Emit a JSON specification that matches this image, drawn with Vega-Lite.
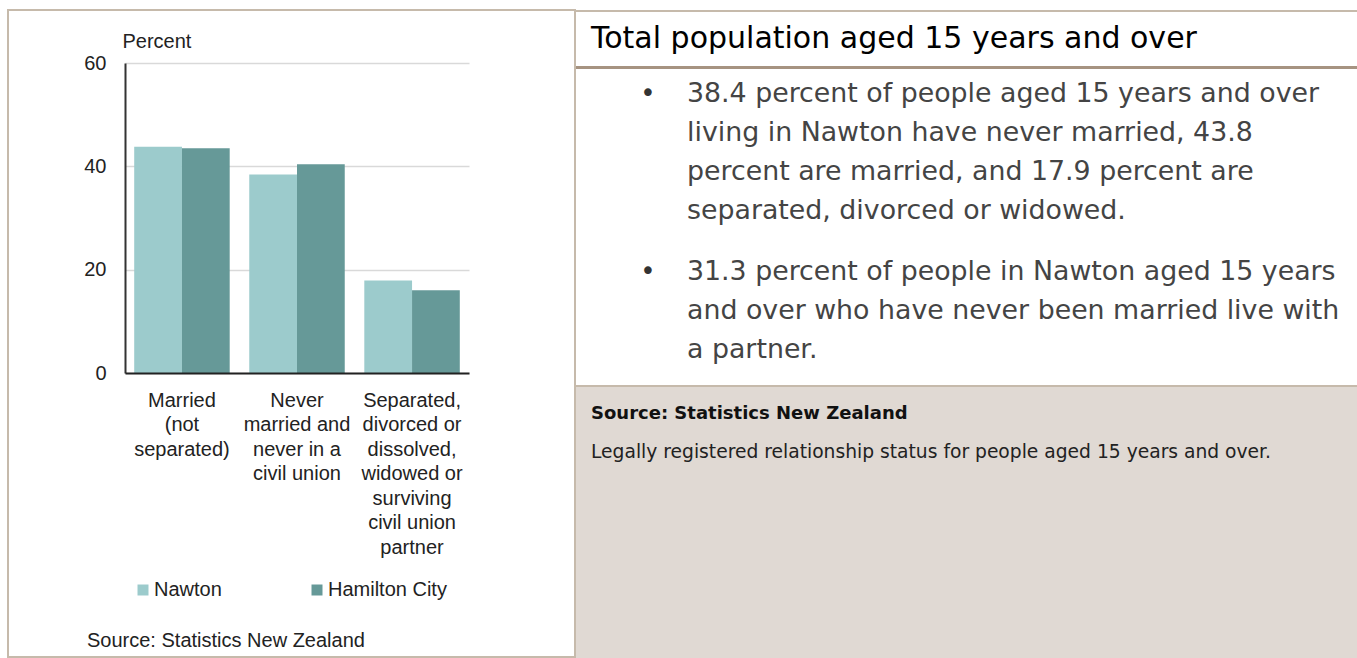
{
  "$schema": "https://vega.github.io/schema/vega-lite/v6.json",
  "background": "white",
  "padding": {"left": 7, "top": 9, "right": 0, "bottom": 0},
  "config": {"view": {"stroke": null}, "font": "Liberation Sans"},
  "spacing": 0,
  "hconcat": [
    {
      "width": 567,
      "height": 647,
      "view": {"stroke": "#c6baab", "strokeWidth": 2, "fill": "white"},
      "data": {"values": [
        {"status": "Married (not separated)", "area": "Nawton", "percent": 43.8},
        {"status": "Married (not separated)", "area": "Hamilton City", "percent": 43.5},
        {"status": "Never married and never in a civil union", "area": "Nawton", "percent": 38.4},
        {"status": "Never married and never in a civil union", "area": "Hamilton City", "percent": 40.4},
        {"status": "Separated, divorced or dissolved, widowed or surviving civil union partner", "area": "Nawton", "percent": 17.9},
        {"status": "Separated, divorced or dissolved, widowed or surviving civil union partner", "area": "Hamilton City", "percent": 16.0}
      ]},
      "title": {
        "text": "Source: Statistics New Zealand",
        "orient": "bottom",
        "anchor": "start",
        "frame": "group",
        "dx": 79,
        "offset": -26,
        "baseline": "top",
        "font": "Liberation Sans",
        "fontSize": 20,
        "fontWeight": "normal",
        "color": "#222222"
      },
      "mark": {"type": "bar"},
      "encoding": {
        "x": {
          "field": "status",
          "type": "nominal",
          "sort": ["Married (not separated)", "Never married and never in a civil union", "Separated, divorced or dissolved, widowed or surviving civil union partner"],
          "scale": {"range": [117, 461], "paddingInner": 0.17, "paddingOuter": 0.08},
          "axis": {
            "title": null,
            "offset": -284,
            "labelAngle": 0,
            "labelExpr": "datum.value == 'Married (not separated)' ? ['Married', '(not', 'separated)'] : datum.value == 'Never married and never in a civil union' ? ['Never', 'married and', 'never in a', 'civil union'] : ['Separated,', 'divorced or', 'dissolved,', 'widowed or', 'surviving', 'civil union', 'partner']",
            "labelFont": "Liberation Sans",
            "labelFontSize": 20,
            "labelColor": "#222222",
            "labelLineHeight": 24.5,
            "labelPadding": 17,
            "labelBaseline": "top",
            "labelLimit": 300,
            "labelOverlap": false,
            "ticks": false,
            "domainColor": "#222222",
            "domainWidth": 2,
            "zindex": 1
          }
        },
        "xOffset": {"field": "area", "sort": ["Nawton", "Hamilton City"]},
        "y": {
          "field": "percent",
          "type": "quantitative",
          "scale": {"domain": [0, 60], "nice": false, "range": [363, 53]},
          "axis": {
            "offset": -117,
            "values": [0, 20, 40, 60],
            "title": "Percent",
            "titleAngle": 0,
            "titleAlign": "left",
            "titleBaseline": "middle",
            "titleX": -3,
            "titleY": 31,
            "titleFont": "Liberation Sans",
            "titleFontSize": 20,
            "titleFontWeight": "normal",
            "titleColor": "#222222",
            "labelFont": "Liberation Sans",
            "labelFontSize": 20,
            "labelColor": "#222222",
            "labelPadding": 19,
            "ticks": false,
            "domainColor": "#333333",
            "domainWidth": 2,
            "grid": true,
            "gridColor": "#d9d9d9",
            "gridWidth": 1.5
          }
        },
        "color": {
          "field": "area",
          "type": "nominal",
          "scale": {"domain": ["Nawton", "Hamilton City"], "range": ["#9ccbcc", "#669998"]},
          "legend": {
            "orient": "none",
            "legendX": 125,
            "legendY": 570,
            "direction": "horizontal",
            "title": null,
            "symbolType": "square",
            "symbolSize": 121,
            "symbolStrokeWidth": 0,
            "labelFont": "Liberation Sans",
            "labelFontSize": 20,
            "labelColor": "#222222",
            "labelOffset": 1,
            "columnPadding": 85
          }
        }
      }
    },
    {
      "bounds": "flush",
      "spacing": 0,
      "vconcat": [
        {
          "width": 781,
          "height": 2,
          "view": {"stroke": null, "fill": "#c6baab"},
          "data": {"values": []},
          "mark": {"type": "text"},
          "encoding": {"text": {"value": ""}}
        },
        {
          "width": 781,
          "height": 54,
          "view": {"stroke": null, "fill": "white"},
          "data": {"values": [{"text": "Total population aged 15 years and over"}]},
          "mark": {"type": "text", "align": "left", "baseline": "middle", "dx": 15, "font": "DejaVu Sans", "fontSize": 30, "color": "#000000"},
          "encoding": {
            "text": {"field": "text"},
            "x": {"datum": 0, "type": "quantitative", "scale": {"domain": [0, 1]}, "axis": null}
          }
        },
        {
          "width": 781,
          "height": 3,
          "view": {"stroke": null, "fill": "#a69381"},
          "data": {"values": []},
          "mark": {"type": "text"},
          "encoding": {"text": {"value": ""}}
        },
        {
          "width": 781,
          "height": 316,
          "view": {"stroke": null, "fill": "white"},
          "data": {"values": [
            {"para": "1", "text": "38.4 percent of people aged 15 years and over\nliving in Nawton have never married, 43.8\npercent are married, and 17.9 percent are\nseparated, divorced or widowed."},
            {"para": "2", "text": "31.3 percent of people in Nawton aged 15 years\nand over who have never been married live with\na partner."}
          ]},
          "encoding": {
            "y": {"field": "para", "type": "ordinal", "scale": {"type": "point", "domain": ["1", "2"], "range": [12, 190], "padding": 0}, "axis": null}
          },
          "layer": [
            {
              "mark": {"type": "text", "align": "center", "baseline": "top", "font": "DejaVu Sans", "fontSize": 26, "color": "#333333"},
              "encoding": {
                "text": {"value": "•"},
                "x": {"datum": "bullet", "type": "nominal", "scale": {"type": "point", "domain": ["bullet", "text"], "range": [72, 111], "padding": 0}, "axis": null}
              }
            },
            {
              "mark": {"type": "text", "align": "left", "baseline": "top", "lineBreak": "\n", "lineHeight": 39, "font": "DejaVu Sans", "fontSize": 26.8, "color": "#444444"},
              "encoding": {
                "text": {"field": "text"},
                "x": {"datum": "text", "type": "nominal", "scale": {"type": "point", "domain": ["bullet", "text"], "range": [72, 111], "padding": 0}, "axis": null}
              }
            }
          ]
        },
        {
          "width": 781,
          "height": 2,
          "view": {"stroke": null, "fill": "#c6baab"},
          "data": {"values": []},
          "mark": {"type": "text"},
          "encoding": {"text": {"value": ""}}
        },
        {
          "width": 781,
          "height": 272,
          "view": {"stroke": null, "fill": "#e0d9d3"},
          "data": {"values": [
            {"kind": "source", "text": "Source: Statistics New Zealand"},
            {"kind": "note", "text": "Legally registered relationship status for people aged 15 years and over."}
          ]},
          "encoding": {
            "text": {"field": "text"},
            "x": {"datum": 0, "type": "quantitative", "scale": {"domain": [0, 1]}, "axis": null},
            "y": {"field": "kind", "type": "nominal", "scale": {"type": "point", "domain": ["source", "note"], "range": [27, 65], "padding": 0}, "axis": null}
          },
          "layer": [
            {
              "transform": [{"filter": "datum.kind == 'source'"}],
              "mark": {"type": "text", "align": "left", "baseline": "middle", "dx": 15, "font": "DejaVu Sans", "fontSize": 18, "fontWeight": "bold", "color": "#111111"}
            },
            {
              "transform": [{"filter": "datum.kind == 'note'"}],
              "mark": {"type": "text", "align": "left", "baseline": "middle", "dx": 15, "font": "DejaVu Sans", "fontSize": 18.7, "color": "#222222"}
            }
          ]
        }
      ]
    }
  ]
}
